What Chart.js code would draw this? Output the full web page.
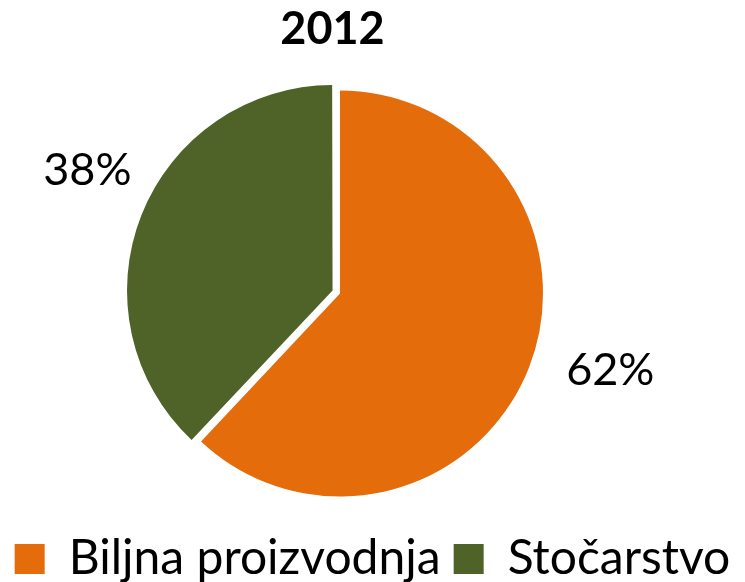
<!DOCTYPE html>
<html>
<head>
<meta charset="utf-8">
<script src="https://cdn.jsdelivr.net/npm/chart.js@4"></script>
<style>
  html, body { margin: 0; padding: 0; background: #fff; }
  #wrap { width: 745px; height: 582px; position: relative; }
</style>
</head>
<body>
<div id="wrap"><canvas id="pieChart"></canvas></div>
<script>
// podaci
const chartTitle = "2012";
const categories = ["Biljna proizvodnja", "Stočarstvo"];
const shares = [62, 38];
const sliceColors = ["#E46C0A", "#4F6228"];

// krug malo lijevo od sredine, legenda malo niže, kao u originalu
const shiftPie = {
  id: "shiftPie",
  afterLayout(chart) {
    const area = chart.chartArea;
    area.right -= 65;
    area.bottom += 10;
    area.width = area.right - area.left;
    area.height = area.bottom - area.top;
    chart.titleBlock.right = area.right - 15;
    chart.legend.top += 11;
    chart.legend.bottom += 11;
  }
};

// procenti izvan kruga
const outsideLabels = {
  id: "outsideLabels",
  afterDatasetsDraw(chart) {
    const ctx = chart.ctx;
    const meta = chart.getDatasetMeta(0);
    ctx.save();
    ctx.font = "45px Lato";
    ctx.fillStyle = "#000";
    ctx.textAlign = "center";
    ctx.textBaseline = "middle";
    meta.data.forEach((arc, i) => {
      let mid = (arc.startAngle + arc.endAngle) / 2;
      mid += Math.cos(mid) < 0 ? 0.077 : -0.098;
      const dist = arc.outerRadius * 1.385;
      const x = arc.x + Math.cos(mid) * dist;
      const y = arc.y + Math.sin(mid) * dist;
      ctx.fillText(shares[i] + "%", x, y);
    });
    ctx.restore();
  }
};

const ctx = document.getElementById("pieChart").getContext("2d");
const pieChart = new Chart(ctx, {
  type: "pie",
  data: {
    labels: categories,
    datasets: [
      {
        data: shares,
        backgroundColor: sliceColors,
        borderWidth: 0,
        offset: [0, 32],
        radius: 203,
      },
    ],
  },
  options: {
    responsive: true,
    maintainAspectRatio: false,
    animation: false,
    plugins: {
      title: {
        display: true,
        text: chartTitle,
        color: "#000",
        font: { family: "Lato", size: 45, weight: "bold" },
        padding: { top: 2, bottom: 10 }
      },
      legend: {
        position: "bottom",
        labels: {
          color: "#000",
          font: { family: "Lato", size: 48 },
          boxWidth: 30,
          boxHeight: 30,
          padding: 13
        }
      },
      tooltip: { enabled: false }
    }
  },
  plugins: [shiftPie, outsideLabels]
});
</script>
</body>
</html>
